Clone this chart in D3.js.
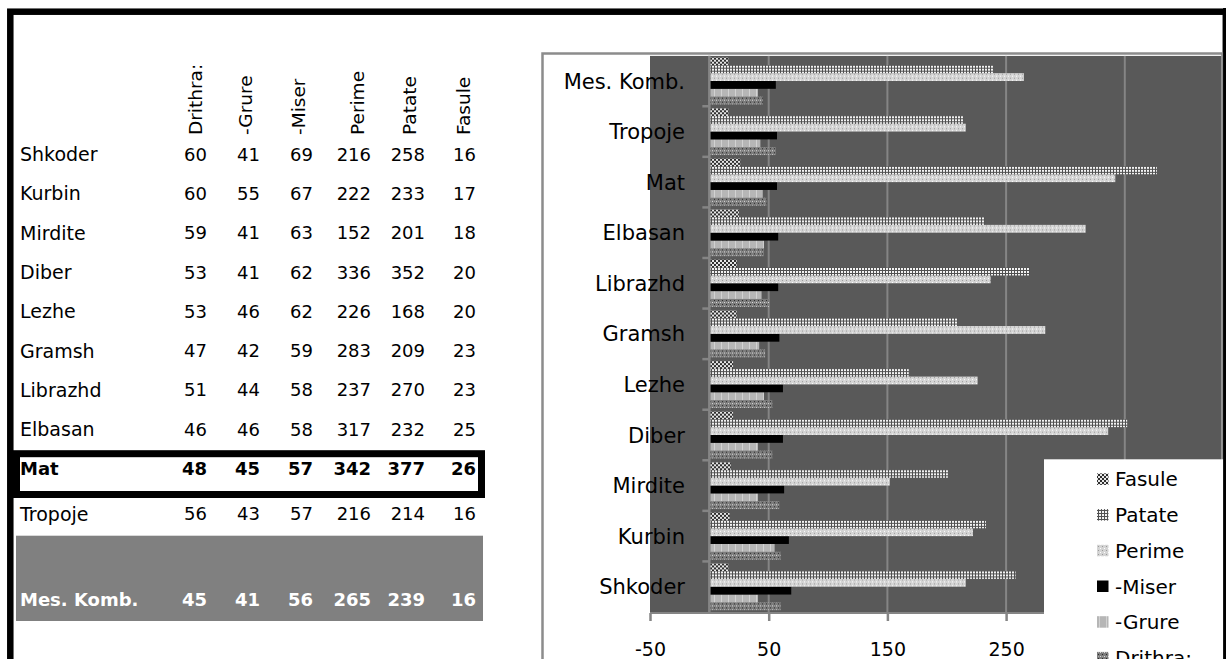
<!DOCTYPE html>
<html><head><meta charset="utf-8">
<script src="https://cdn.jsdelivr.net/npm/d3@7"></script>
<style>html,body{margin:0;padding:0;background:#fff;overflow:hidden}svg{display:block}</style>
</head><body>
<svg id="c" width="1226" height="659"></svg>
<script>
// ---- data ----
const categories = ["Shkoder","Kurbin","Mirdite","Diber","Lezhe","Gramsh","Librazhd","Elbasan","Mat","Tropoje","Mes. Komb."];
const seriesNames = ["Drithra:","-Grure","-Miser","Perime","Patate","Fasule"];
const drithra = [60,60,59,53,53,47,51,46,48,56,45];
const grure   = [41,55,41,41,46,42,44,46,45,43,41];
const miser   = [69,67,63,62,62,59,58,58,57,57,56];
const perime  = [216,222,152,336,226,283,237,317,342,216,265];
const patate  = [258,233,201,352,168,209,270,232,377,214,239];
const fasule  = [16,17,18,20,20,23,23,25,26,16,16];
const tickValues = [-50,50,150,250];
const tickLabels = ["-50","50","150","250"];
const gridValues = [50,150,250,350];

const seriesValues = [drithra,grure,miser,perime,patate,fasule];
const FONT = "DejaVu Sans";
const svg = d3.select("#c");
const defs = svg.append("defs");

// patterns
function pat(id,w,h,bg,rects){
  const p = defs.append("pattern").attr("id",id).attr("patternUnits","userSpaceOnUse").attr("width",w).attr("height",h);
  p.append("rect").attr("width",w).attr("height",h).attr("fill",bg);
  rects.forEach(r=>p.append("rect").attr("x",r[0]).attr("y",r[1]).attr("width",r[2]).attr("height",r[3]).attr("fill",r[4]));
}
pat("p0",4,4,"#7c7c7c",[[0,0,1,1,"#dcdcdc"],[2,2,1,1,"#2a2a2a"],[2,0,1,1,"#a8a8a8"]]); // Drithra
pat("p1",7,4,"#b6b6b6",[[0,0,1,4,"#d2d2d2"]]); // Grure
pat("p3",4,4,"#d4d4d4",[[0,0,1,1,"#ffffff"],[2,2,1,1,"#9a9a9a"]]); // Perime
pat("p4",3,3,"#f2f2f2",[[0,0,3,1,"#505050"],[0,0,1,3,"#505050"]]); // Patate
pat("p5",4,4,"#e6e6e6",[[0,0,2,2,"#2e2e2e"],[2,2,2,2,"#2e2e2e"]]); // Fasule
const fills = ["url(#p0)","url(#p1)","#000","url(#p3)","url(#p4)","url(#p5)"];

// ---- outer frame ----
svg.append("rect").attr("x",10.3).attr("y",11.7).attr("width",1215.5).attr("height",700)
  .attr("fill","none").attr("stroke","#000").attr("stroke-width",6.5);

// ---- table ----
const table = svg.append("g").attr("font-family",FONT).attr("font-size",18).attr("fill","#000");
const headerX = [195,245,298,357,409,463];
const colRight = [207,260,313,371,425,476];
function rowY(i){ if(i<=8) return 154.2+39.3*i; if(i===9) return 514; return 600; }

// Mes. Komb. gray band
table.append("rect").attr("x",16).attr("y",535.7).attr("width",467).attr("height",85.3).attr("fill","#808080");
// Mat highlighted box
table.append("rect").attr("x",16.5).attr("y",453.7).attr("width",465).attr("height",40.8)
  .attr("fill","none").attr("stroke","#000").attr("stroke-width",7);

seriesNames.forEach((s,j)=>{
  table.append("text").attr("transform",`translate(${headerX[j]},135) rotate(-90)`)
    .attr("dy","0.36em").attr("text-anchor","start").attr("font-size",18.5).text(s);
});
categories.forEach((c,i)=>{
  const y = rowY(i);
  const bold = (c==="Mat"||c==="Mes. Komb.");
  const col = c==="Mes. Komb." ? "#fff" : "#000";
  table.append("text").attr("x",20).attr("y",y).attr("dy","0.36em")
    .attr("font-weight",bold?"bold":"normal").attr("fill",col).attr("font-size",bold?18:19).text(c);
  seriesValues.forEach((arr,j)=>{
    table.append("text").attr("x",colRight[j]).attr("y",y).attr("dy","0.36em")
      .attr("text-anchor","end").attr("font-weight",bold?"bold":"normal").attr("fill",col).text(arr[i]);
  });
});

// ---- chart ----
const chart = svg.append("g");
chart.append("rect").attr("x",542.5).attr("y",53.5).attr("width",680).attr("height",700)
  .attr("fill","#fff").attr("stroke","#8c8c8c").attr("stroke-width",2.5);

const plotTop = 55.7, plotBottom = 612, plotLeft = 650, plotRight = 1221.5;
svg.append("clipPath").attr("id","plotclip").append("rect")
  .attr("x",plotLeft).attr("y",plotTop).attr("width",plotRight-plotLeft).attr("height",plotBottom-plotTop+12);

const x = d3.scaleLinear().domain([-50,450]).range([plotLeft, plotLeft+593.5]);
const y = d3.scaleBand().domain(categories.slice().reverse()).range([plotTop,plotBottom]).padding(0);
const inner = d3.scaleBand().domain(seriesNames.slice().reverse()).range([(y.bandwidth()-47)/2,(y.bandwidth()+47)/2]).padding(0);

const plot = chart.append("g").attr("clip-path","url(#plotclip)");
plot.append("rect").attr("x",plotLeft).attr("y",plotTop).attr("width",plotRight-plotLeft).attr("height",plotBottom-plotTop).attr("fill","#595959");
// gridlines
plot.selectAll("line.grid").data(gridValues).join("line")
  .attr("x1",d=>x(d)).attr("x2",d=>x(d)).attr("y1",plotTop).attr("y2",plotBottom)
  .attr("stroke","#858585").attr("stroke-width",2);

// bars
const groups = plot.selectAll("g.cat").data(categories).join("g")
  .attr("transform",d=>`translate(0,${y(d)})`);
seriesNames.forEach((s,j)=>{
  groups.append("rect").attr("x",x(0)).attr("y",inner(s))
    .attr("width",(d,i)=>x(seriesValues[j][i])-x(0)).attr("height",inner.bandwidth())
    .attr("fill",fills[j]);
});

// x axis
const xAxis = d3.axisBottom(x).tickValues(tickValues).tickFormat((d,i)=>tickLabels[i]).tickSize(8).tickPadding(22);
const gx = chart.append("g").attr("transform",`translate(0,${plotBottom+1})`).call(xAxis);
gx.select(".domain").attr("stroke","#858585").attr("stroke-width",2).attr("d",`M${plotLeft},0H${plotRight}`);
gx.selectAll(".tick line").attr("stroke","#858585").attr("stroke-width",2.5);
gx.selectAll(".tick text").attr("font-family",FONT).attr("font-size",19).attr("fill","#000").attr("dy","0.71em");

// category axis at x=0
const gy = chart.append("g").attr("transform",`translate(${x(0)},0)`);
gy.append("line").attr("x1",0).attr("x2",0).attr("y1",plotTop).attr("y2",plotBottom+1).attr("stroke","#858585").attr("stroke-width",2.5);
gy.selectAll("line.bt").data(categories.slice(0,-1)).join("line").attr("class","bt")
  .attr("x1",-7).attr("x2",0).attr("y1",d=>y(d)).attr("y2",d=>y(d))
  .attr("stroke","#858585").attr("stroke-width",2.5);
// category labels
chart.selectAll("text.cat").data(categories).join("text").attr("class","cat")
  .attr("x",685).attr("y",d=>y(d)+y.bandwidth()/2).attr("dy","0.36em")
  .attr("text-anchor","end").attr("font-family",FONT).attr("font-size",21).attr("fill","#000").text(d=>d);

// legend
const lg = svg.append("g").attr("font-family",FONT).attr("font-size",20);
lg.append("rect").attr("x",1044).attr("y",459.3).attr("width",182).attr("height",210).attr("fill","#fff");
const legOrder = seriesNames.map((s,j)=>j).reverse();
legOrder.forEach((j,k)=>{
  const cy = 479.2 + k*35.7;
  lg.append("rect").attr("x",1097).attr("y",cy-5.8).attr("width",11.5).attr("height",11.5).attr("fill",fills[j]);
  lg.append("text").attr("x",1115).attr("y",cy).attr("dy","0.36em").attr("fill","#000").text(seriesNames[j]);
});
// right edge of outer frame redraw over chart
svg.append("line").attr("x1",1224.6).attr("x2",1224.6).attr("y1",8).attr("y2",659).attr("stroke","#000").attr("stroke-width",3);
</script>
</body></html>
